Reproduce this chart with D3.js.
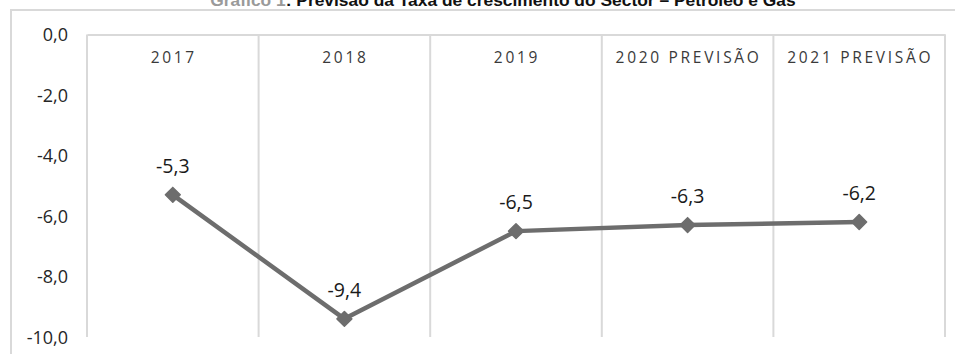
<!DOCTYPE html>
<html><head><meta charset="utf-8">
<script src="https://cdn.jsdelivr.net/npm/d3@7"></script>
<style>body{margin:0;background:#fff;}svg{display:block;}</style>
</head><body>
<svg id="c" width="955" height="354"></svg>
<script>
const categories = ["2017", "2018", "2019", "2020 PREVISÃO", "2021 PREVISÃO"];
const values = [-5.3, -9.4, -6.5, -6.3, -6.2];
const yTicks = [0, -2, -4, -6, -8, -10];
const titleLead = "Gráfico 1";
const titleRest = ": Previsão da Taxa de crescimento do Sector – Petróleo e Gás";

(function () {
const svg = d3.select("#c");
const fmt = v => d3.format(".1f")(v).replace(".", ",").replace("−", "-");

// outer chart border
svg.append("path").attr("d", "M11,358 V10 H960").attr("fill", "none")
  .attr("stroke", "#d9d9d9").attr("stroke-width", 2);

// title (cropped at top in the reference)
const t = svg.append("text").attr("x", 503).attr("y", 6).attr("text-anchor", "middle")
  .attr("font-family", "Liberation Sans, Arial, sans-serif").attr("font-size", 17.4).attr("font-weight", "bold");
t.append("tspan").attr("fill", "#9a9a9a").text(titleLead);
t.append("tspan").attr("fill", "#111").text(titleRest);

const pLeft = 87, pRight = 945, pTop = 34.5, pBottom = 337;
const x = d3.scaleBand().domain(categories).range([pLeft, pRight]);
const y = d3.scaleLinear().domain([-10, 0]).range([pBottom, pTop]);

// vertical gridlines at band boundaries
const bounds = categories.map(c => x(c)).concat([pRight]);
svg.append("g").selectAll("line").data(bounds).join("line")
  .attr("x1", d => d).attr("x2", d => d).attr("y1", pTop).attr("y2", pBottom)
  .attr("stroke", "#d9d9d9").attr("stroke-width", 2);

// top axis line (at 0)
const xAxis = d3.axisTop(x).tickSize(0).tickFormat("");
svg.append("g").attr("transform", `translate(0,${y(0)})`).call(xAxis)
  .call(g => g.select(".domain").attr("stroke", "#d9d9d9").attr("stroke-width", 2));

// category labels
svg.append("g").selectAll("text").data(categories).join("text")
  .attr("x", d => x(d) + x.bandwidth() / 2 + 1).attr("y", 63)
  .attr("text-anchor", "middle").attr("font-family", "Open Sans, sans-serif")
  .attr("font-size", 15.5).attr("letter-spacing", "2.7px").attr("fill", "#3a3a3a")
  .text(d => d);

// y axis
const yAxis = d3.axisLeft(y).tickValues(yTicks).tickSize(0).tickPadding(0).tickFormat(fmt);
svg.append("g").attr("transform", `translate(68,0)`).call(yAxis)
  .call(g => g.select(".domain").remove())
  .call(g => g.selectAll("text").attr("font-family", "Open Sans, sans-serif")
    .attr("font-size", 18).attr("fill", "#262626").attr("dy", "0.35em"));

// line
const cx = d => x(d.c) + x.bandwidth() / 2;
const pts = categories.map((c, i) => ({c, v: values[i]}));
svg.append("path").datum(pts)
  .attr("d", d3.line().x(cx).y(d => y(d.v)))
  .attr("fill", "none").attr("stroke", "#6d6d6d").attr("stroke-width", 4.5)
  .attr("stroke-linejoin", "round");

// diamond markers
svg.append("g").selectAll("path").data(pts).join("path")
  .attr("transform", d => `translate(${cx(d)},${y(d.v)})`)
  .attr("d", d3.symbol(d3.symbolDiamond2, 140)())
  .attr("fill", "#6d6d6d").attr("stroke", "#6d6d6d").attr("stroke-width", 1.5)
  .attr("stroke-linejoin", "round");

// data labels
svg.append("g").selectAll("text").data(pts).join("text")
  .attr("x", cx).attr("y", d => y(d.v) - 22)
  .attr("text-anchor", "middle").attr("font-family", "Open Sans, sans-serif")
  .attr("font-size", 19.5).attr("fill", "#1a1a1a").text(d => fmt(d.v));
})();
</script>
</body></html>
